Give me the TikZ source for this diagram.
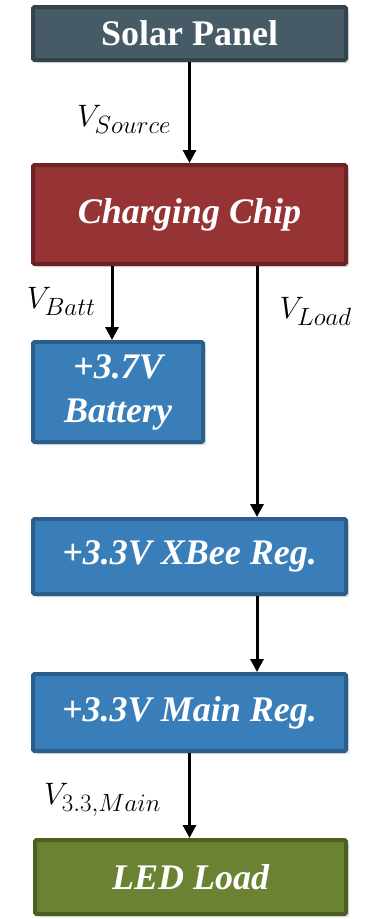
\RequirePackage{fix-cm}
\documentclass[tikz,border=0pt]{standalone}
\usepackage{fontspec}
\setmainfont{Liberation Serif}
\usetikzlibrary{arrows.meta, positioning, shadows}
\DeclareMathSizes{31}{31}{25}{20}

\definecolor{slate}{HTML}{475B66}
\definecolor{slatedark}{HTML}{33444E}
\definecolor{chipred}{HTML}{953335}
\definecolor{chipreddark}{HTML}{6D2325}
\definecolor{regblue}{HTML}{3A7EB9}
\definecolor{regbluedark}{HTML}{2B5E8A}
\definecolor{loadgreen}{HTML}{6A8232}
\definecolor{loadgreendark}{HTML}{4D6023}

\begin{document}
\begin{tikzpicture}[x=1pt, y=-1pt, >={Triangle[width=13pt, length=13pt]},
  block/.style={draw, line width=4pt, rounded corners=1.5pt, text=white,
    font=\fontsize{36}{44}\selectfont\bfseries\itshape, align=center,
    inner sep=0pt,
    drop shadow={shadow xshift=3pt, shadow yshift=-3pt, opacity=0.25}},
  flow/.style={->, line width=3pt},
  vlabel/.style={font=\fontsize{31}{36}\selectfont, inner sep=0pt}]
  \useasboundingbox (0,0) rectangle (370,919);

  % Blocks (pixel coordinates, y downwards)
  \node[block, fill=slate, draw=slatedark, minimum width=313pt,
        minimum height=53pt, font=\fontsize{36}{44}\selectfont\bfseries]
        (solar) at (189.5,33.5) {Solar Panel};
  \node[block, fill=chipred, draw=chipreddark, minimum width=313pt,
        minimum height=99pt] (chip) at (189.5,214.5) {Charging Chip};
  \node[block, fill=regblue, draw=regbluedark, minimum width=170pt,
        minimum height=100pt] (batt) at (118,392) {+3.7V\\Battery};
  \node[block, fill=regblue, draw=regbluedark, minimum width=313pt,
        minimum height=75pt] (xbee) at (189.5,556.5) {+3.3V XBee Reg.};
  \node[block, fill=regblue, draw=regbluedark, minimum width=313pt,
        minimum height=77pt] (mainreg) at (189.5,712.5) {+3.3V Main Reg.};
  \node[block, fill=loadgreen, draw=loadgreendark, minimum width=311pt,
        minimum height=74pt] (led) at (190.5,877) {LED Load};

  % Arrows
  \coordinate (loadx) at (257,0);
  \draw[flow] (solar) -- node[vlabel, left=17pt, pos=0.57] (vsrc)
    {$V_{Source}$} (chip);
  \draw[flow] ([xshift=-6pt]batt.north |- chip.south)
    -- node[vlabel, left=15pt, pos=0.48] (vbatt) {$V_{Batt}$}
    ([xshift=-6pt]batt.north);
  \draw[flow] (chip.south -| loadx)
    -- node[vlabel, right=21pt, pos=0.18] (vload) {$V_{Load}$}
    (xbee.north -| loadx);
  \draw[flow] (xbee.south -| loadx) -- (mainreg.north -| loadx);
  \draw[flow] (mainreg.south) -- node[vlabel, left=27pt, pos=0.55] (vmain)
    {$V_{3.3,Main}$} (mainreg.south |- led.north);
\end{tikzpicture}
\end{document}
